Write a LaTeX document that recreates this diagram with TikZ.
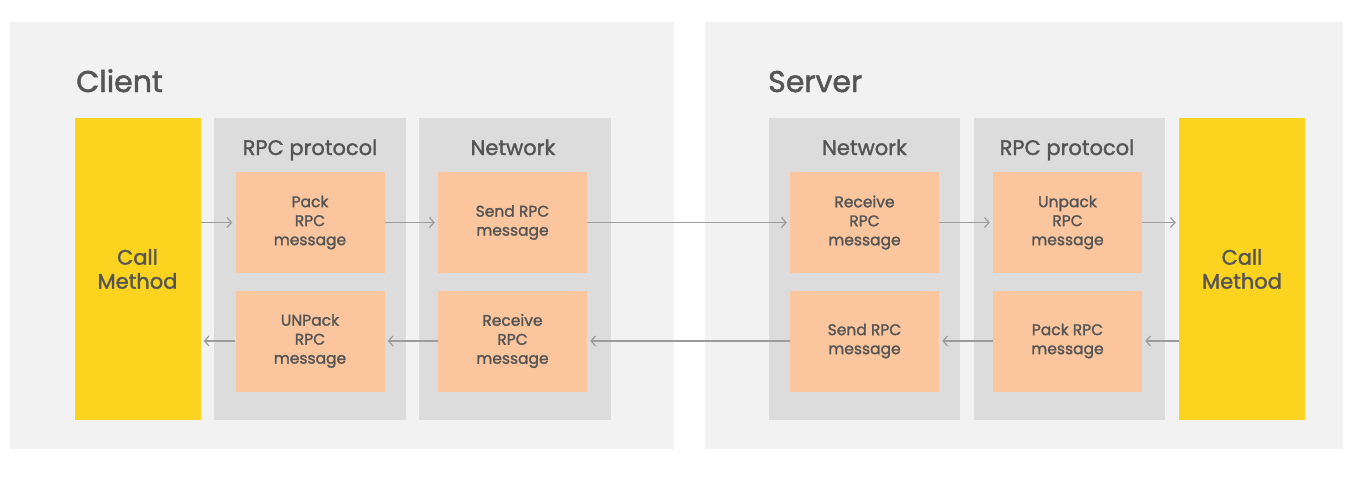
\documentclass[tikz,border=0pt]{standalone}
\usepackage{fontspec}
\setmainfont{Poppins}
\newfontfamily\medfont{Poppins}[FakeBold=1.6]
\usetikzlibrary{arrows.meta}
\definecolor{panelbg}{HTML}{F2F2F2}
\definecolor{colbg}{HTML}{DCDCDC}
\definecolor{boxor}{HTML}{FBC59D}
\definecolor{ylw}{HTML}{FCD41F}
\definecolor{txt}{HTML}{555555}
\definecolor{arrc}{HTML}{9C9C9C}
\tikzset{
  panel/.style={fill=panelbg, draw=none, inner sep=0pt},
  column/.style={fill=colbg, draw=none, inner sep=0pt, minimum width=192pt, minimum height=302pt},
  callbox/.style={fill=ylw, draw=none, inner sep=0pt, minimum width=126pt, minimum height=302pt, text=txt, align=center, font=\medfont\fontsize{21}{24}\selectfont},
  msgbox/.style={fill=boxor, draw=none, inner sep=0pt, minimum width=149pt, minimum height=101pt, text=txt, align=center, font=\medfont\fontsize{15.5}{19}\selectfont},
  header/.style={text=txt, font=\medfont\fontsize{21}{24}\selectfont, inner sep=0pt, anchor=base},
  title/.style={text=txt, font=\medfont\fontsize{30}{34}\selectfont, inner sep=0pt, anchor=base west},
  arr/.style={draw=arrc, line width=1.2pt, -{Straight Barb[length=4.5pt,width=10pt]}, shorten >=3pt}
}
\begin{document}
\begin{tikzpicture}[x=1pt,y=-1pt]
\useasboundingbox (0,0) rectangle (1353,477);
\fill[white] (0,0) rectangle (1353,477);
% panels
\node[panel, minimum width=664pt, minimum height=427pt] (lpanel) at (342,235.5) {};
\node[panel, minimum width=638pt, minimum height=427pt] (rpanel) at (1024,235.5) {};
\node[title] (client) at (76,92) {Client};
\node[title] (server) at (768,92) {Server};
% columns
\node[callbox] (ly) at (137.5,269) {Call\\Method};
\node[column] (lrpc) at (310,269) {};
\node[column] (lnet) at (515,269) {};
\node[column, minimum width=191pt] (rnet) at (864.5,269) {};
\node[column, minimum width=191pt] (rrpc) at (1069.5,269) {};
\node[callbox] (ry) at (1242,269) {Call\\Method};
% headers
\node[header] (lrpch) at (310,155) {RPC protocol};
\node[header] (lneth) at (513,155) {Network};
\node[header] (rneth) at (864.5,155) {Network};
\node[header] (rrpch) at (1067,155) {RPC protocol};
% message boxes
\node[msgbox] (lpt) at (310,222.5) {Pack\\RPC\\message};
\node[msgbox] (lpb) at (310,341) {UNPack\\RPC\\message};
\node[msgbox] (lnt) at (512.5,222.5) {Send RPC\\message};
\node[msgbox] (lnb) at (512.5,341) {Receive\\RPC\\message};
\node[msgbox] (rnt) at (864.5,222.5) {Receive\\RPC\\message};
\node[msgbox] (rnb) at (864.5,341) {Send RPC\\message};
\node[msgbox] (rpt) at (1067.5,222.5) {Unpack\\RPC\\message};
\node[msgbox] (rpb) at (1067.5,341) {Pack RPC\\message};
% top arrows (request)
\draw[arr] (lpt.west -| ly.east) -- (lpt.west);
\draw[arr] (lpt.east) -- (lnt.west);
\draw[arr] (lnt.east) -- (rnt.west);
\draw[arr] (rnt.east) -- (rpt.west);
\draw[arr] (rpt.east) -- (rpt.east -| ry.west);
% bottom arrows (response)
\draw[arr] (rpb.east -| ry.west) -- (rpb.east);
\draw[arr] (rpb.west) -- (rnb.east);
\draw[arr] (rnb.west) -- (lnb.east);
\draw[arr] (lnb.west) -- (lpb.east);
\draw[arr] (lpb.west) -- (lpb.west -| ly.east);
\end{tikzpicture}
\end{document}
